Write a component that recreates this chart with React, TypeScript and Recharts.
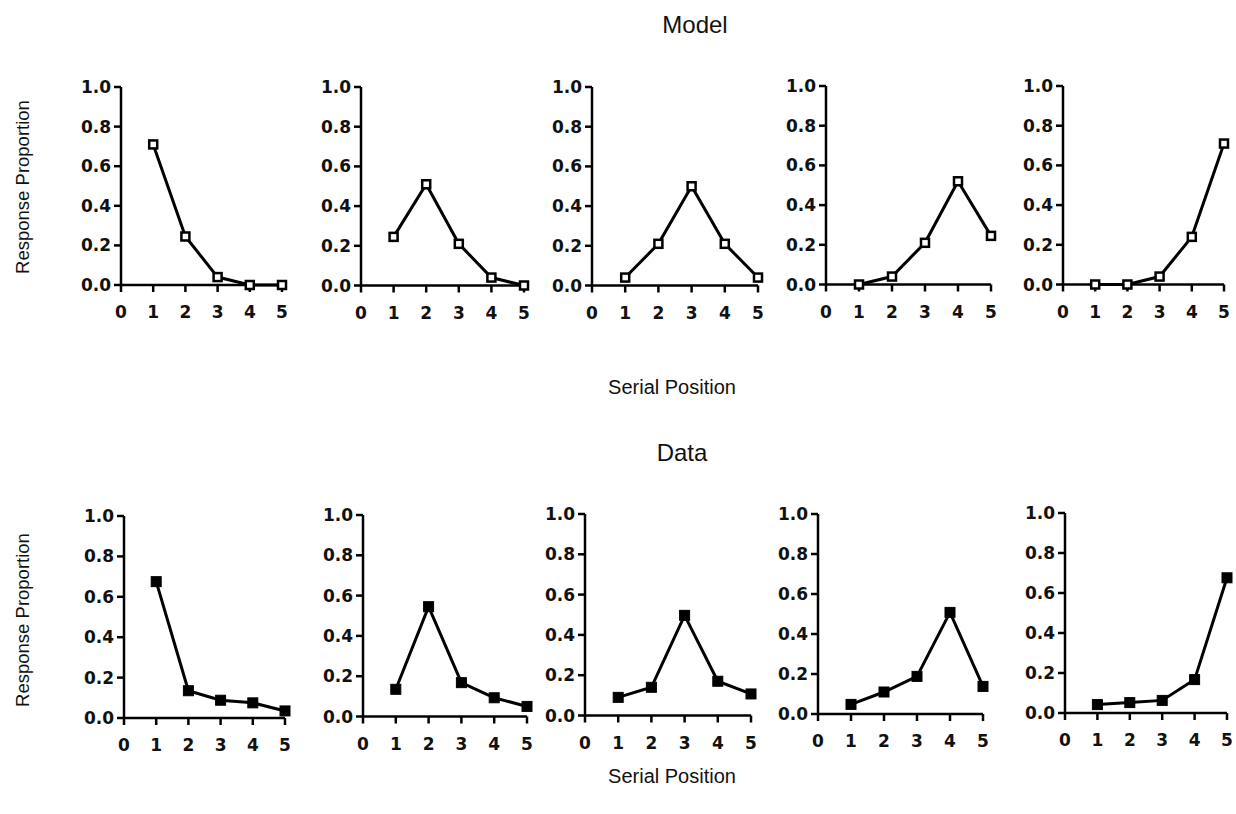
import React from 'react';
import { LineChart, Line, XAxis, YAxis } from 'recharts';

const positions = [1, 2, 3, 4, 5];
const xTicks = [0, 1, 2, 3, 4, 5];
const yTicks = [0, 0.2, 0.4, 0.6, 0.8, 1.0];

const model1 = [0.71, 0.245, 0.04, 0.0, 0.0];
const model2 = [0.245, 0.51, 0.21, 0.04, 0.0];
const model3 = [0.04, 0.21, 0.5, 0.21, 0.04];
const model4 = [0.0, 0.04, 0.21, 0.52, 0.245];
const model5 = [0.0, 0.0, 0.04, 0.24, 0.71];

const data1 = [0.675, 0.135, 0.088, 0.075, 0.035];
const data2 = [0.135, 0.545, 0.168, 0.093, 0.05];
const data3 = [0.09, 0.14, 0.497, 0.17, 0.107];
const data4 = [0.048, 0.11, 0.188, 0.508, 0.138];
const data5 = [0.042, 0.052, 0.063, 0.167, 0.676];

const modelSeries = [model1, model2, model3, model4, model5];
const dataSeries = [data1, data2, data3, data4, data5];

const topLayout = [
  { x0: 121, x5: 282, y1: 87, y0: 285 },
  { x0: 361, x5: 524, y1: 86.5, y0: 285 },
  { x0: 592, x5: 758, y1: 86.5, y0: 285 },
  { x0: 826, x5: 991, y1: 86, y0: 284.5 },
  { x0: 1063, x5: 1224, y1: 86, y0: 284.5 },
];
const bottomLayout = [
  { x0: 124, x5: 285, y1: 515.5, y0: 717.5 },
  { x0: 363, x5: 527, y1: 514.5, y0: 716 },
  { x0: 585, x5: 751, y1: 513.5, y0: 715 },
  { x0: 818, x5: 983, y1: 513.5, y0: 713.5 },
  { x0: 1065, x5: 1227, y1: 512.5, y0: 712.5 },
];

const ML = 44;
const MT = 12;
const MR = 14;
const XH = 40;

const tickStyle = { fontSize: 17, fontWeight: 'bold', fontFamily: 'DejaVu Sans, Liberation Sans, Arial', fill: '#111' };

const OpenSquare = (props: any) => {
  const { cx, cy, index } = props;
  if (cx == null || cy == null) return null;
  return <rect key={`o${index}`} x={cx - 4} y={cy - 4} width={8} height={8} fill="#fff" stroke="#000" strokeWidth={2.5} />;
};
const FilledSquare = (props: any) => {
  const { cx, cy, index } = props;
  if (cx == null || cy == null) return null;
  return <rect key={`f${index}`} x={cx - 5} y={cy - 5} width={10} height={10} fill="#000" stroke="#000" strokeWidth={1} />;
};

function Panel({ values, layout, filled }: { values: number[]; layout: any; filled: boolean }) {
  const rows = positions.map((p, i) => ({ pos: p, value: values[i] }));
  const plotW = layout.x5 - layout.x0;
  const plotH = layout.y0 - layout.y1;
  return (
    <div style={{ position: 'absolute', left: layout.x0 - ML, top: layout.y1 - MT }}>
      <LineChart width={ML + plotW + MR} height={MT + plotH + XH} data={rows} margin={{ top: MT, right: MR, left: 0, bottom: 0 }}>
        <XAxis
          dataKey="pos"
          type="number"
          domain={[0, 5]}
          ticks={xTicks}
          interval={0}
          height={XH}
          axisLine={{ stroke: '#000', strokeWidth: 2.5 }}
          tickLine={{ stroke: '#000', strokeWidth: 2.5 }}
          tickSize={7}
          tickMargin={14}
          tick={tickStyle}
        />
        <YAxis
          type="number"
          domain={[0, 1]}
          ticks={yTicks}
          interval={0}
          width={ML}
          axisLine={{ stroke: '#000', strokeWidth: 2.5 }}
          tickLine={{ stroke: '#000', strokeWidth: 2.5 }}
          tickSize={7}
          tickMargin={3}
          tick={tickStyle}
          tickFormatter={(v: number) => v.toFixed(1)}
        />
        <Line
          dataKey="value"
          type="linear"
          stroke="#000"
          strokeWidth={3}
          isAnimationActive={false}
          dot={filled ? FilledSquare : OpenSquare}
          activeDot={false}
        />
      </LineChart>
    </div>
  );
}

const labelFont = 'Liberation Sans, Arial, Helvetica, sans-serif';

function Label({ text, x, y, size, rotate }: { text: string; x: number; y: number; size: number; rotate?: boolean }) {
  return (
    <div
      style={{
        position: 'absolute',
        left: x,
        top: y,
        transform: `translate(-50%, -50%)${rotate ? ' rotate(-90deg)' : ''}`,
        fontFamily: labelFont,
        fontSize: size,
        color: '#111',
        whiteSpace: 'nowrap',
        lineHeight: 1,
      }}
    >
      {text}
    </div>
  );
}

export default function App() {
  return (
    <div style={{ position: 'absolute', left: 0, top: 0, width: 1236, height: 814, background: '#fff', overflow: 'hidden' }}>
      <Label text="Model" x={695} y={25} size={24} />
      <Label text="Serial Position" x={672} y={387} size={20} />
      <Label text="Data" x={682} y={453} size={24} />
      <Label text="Serial Position" x={672} y={776} size={20} />
      <Label text="Response Proportion" x={23} y={187} size={18.5} rotate />
      <Label text="Response Proportion" x={23} y={620} size={18.5} rotate />
      {modelSeries.map((s, i) => (
        <Panel key={`m${i}`} values={s} layout={topLayout[i]} filled={false} />
      ))}
      {dataSeries.map((s, i) => (
        <Panel key={`d${i}`} values={s} layout={bottomLayout[i]} filled={true} />
      ))}
    </div>
  );
}
